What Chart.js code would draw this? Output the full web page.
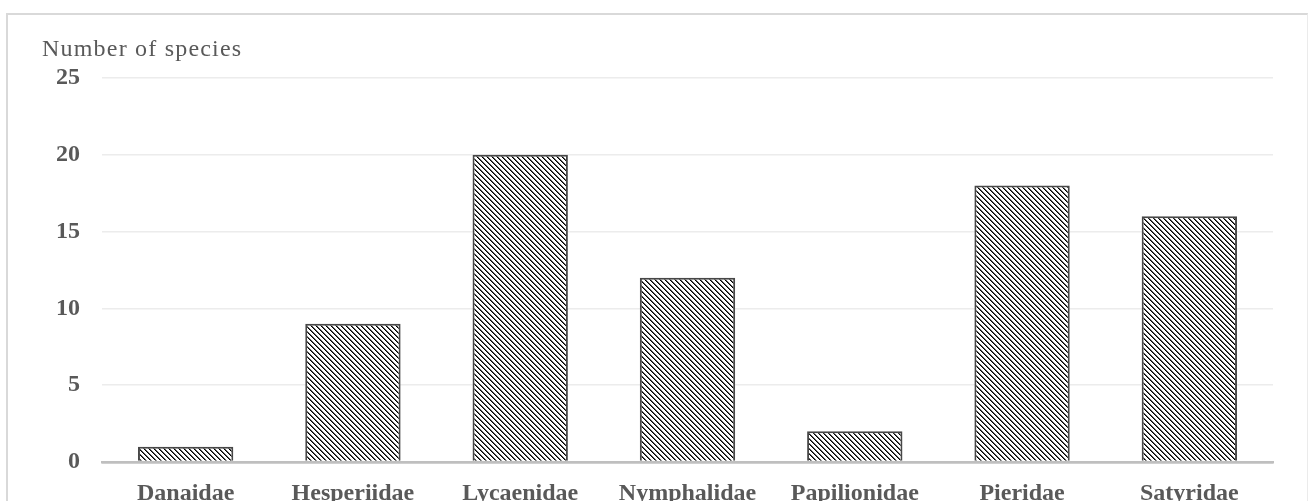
<!DOCTYPE html>
<html>
<head>
<meta charset="utf-8">
<script src="https://cdn.jsdelivr.net/npm/chart.js@4.4.1/dist/chart.umd.min.js"></script>
<style>
  html, body { margin: 0; padding: 0; background: #fff; width: 1309px; height: 501px; overflow: hidden; }
  .frame { position: absolute; left: 6px; top: 13px; width: 1299px; height: 520px;
           border-left: 2px solid #d9d9d9; border-top: 2px solid #d9d9d9; border-right: 1px solid #ebebeb; }
  .wrap { position: absolute; left: 0; top: 0; width: 1309px; height: 501px; }
</style>
</head>
<body>
<div class="frame"></div>
<div class="wrap"><canvas id="famChart" width="1309" height="501"></canvas></div>
<script>
// butterfly families and how many species each one has
const families = ["Danaidae", "Hesperiidae", "Lycaenidae", "Nymphalidae", "Papilionidae", "Pieridae", "Satyridae"];
const speciesCount = [1, 9, 20, 12, 2, 18, 16];
const yTicks = [0, 5, 10, 15, 20, 25];
const axisTitle = "Number of species";

const serif = '"Liberation Serif", "Times New Roman", serif';
const textGrey = '#595959';

// diagonal hatch fill like the excel pattern
const makeHatch = () => {
    const tile = document.createElement('canvas');
    tile.width = 5;
    tile.height = 5;
    const c = tile.getContext('2d');
    c.fillStyle = '#fff';
    c.fillRect(0, 0, 5, 5);
    for (let i = 0; i < 5; i++) {
        c.fillStyle = '#000';
        c.fillRect(i, i, 1, 1);
        c.fillStyle = '#5a5a5a';
        c.fillRect((i + 1) % 5, i, 1, 1);
    }
    return document.getElementById('famChart').getContext('2d').createPattern(tile, 'repeat');
};

// horizontal y-axis title top left
const titlePlugin = {
    id: 'axisTitle',
    afterDraw(chart) {
        const ctx = chart.ctx;
        ctx.save();
        ctx.font = '24px ' + serif;
        ctx.fillStyle = textGrey;
        ctx.textBaseline = 'alphabetic';
        ctx.textAlign = 'left';
        if ('letterSpacing' in ctx) ctx.letterSpacing = '1.2px';
        ctx.fillText(axisTitle, 42, 56);
        ctx.restore();
    }
};

const ctx = document.getElementById('famChart');
const famChart = new Chart(ctx, {
    type: 'bar',
    data: {
        labels: families,
        datasets: [{
            data: speciesCount,
            backgroundColor: makeHatch(),
            borderColor: '#474747',
            borderWidth: 2,
            barPercentage: 0.57,
            categoryPercentage: 1
        }]
    },
    options: {
        responsive: false,
        animation: false,
        layout: { padding: { top: 78, right: 36, left: 0, bottom: 0 } },
        plugins: {
            legend: { display: false },
            tooltip: { enabled: false }
        },
        scales: {
            x: {
                grid: { display: false },
                border: { display: true, color: '#bfbfbf', width: 2.5 },
                ticks: {
                    color: textGrey,
                    padding: 9,
                    maxRotation: 0,
                    font: { family: serif, size: 24, weight: 'bold' }
                },
                afterFit(scale) { scale.height = 39; }
            },
            y: {
                min: 0,
                max: 25,
                border: { display: false },
                grid: {
                    drawTicks: false,
                    color: c => c.tick && c.tick.value === 0 ? '#bfbfbf' : '#ececec',
                    lineWidth: c => c.tick && c.tick.value === 0 ? 2.5 : 1.5
                },
                afterBuildTicks(scale) { scale.ticks = yTicks.map(v => ({ value: v })); },
                ticks: {
                    color: textGrey,
                    padding: 22,
                    font: { family: serif, size: 24, weight: 'bold' }
                },
                afterFit(scale) { scale.width = 102; }
            }
        }
    },
    plugins: [titlePlugin]
});
</script>
</body>
</html>
